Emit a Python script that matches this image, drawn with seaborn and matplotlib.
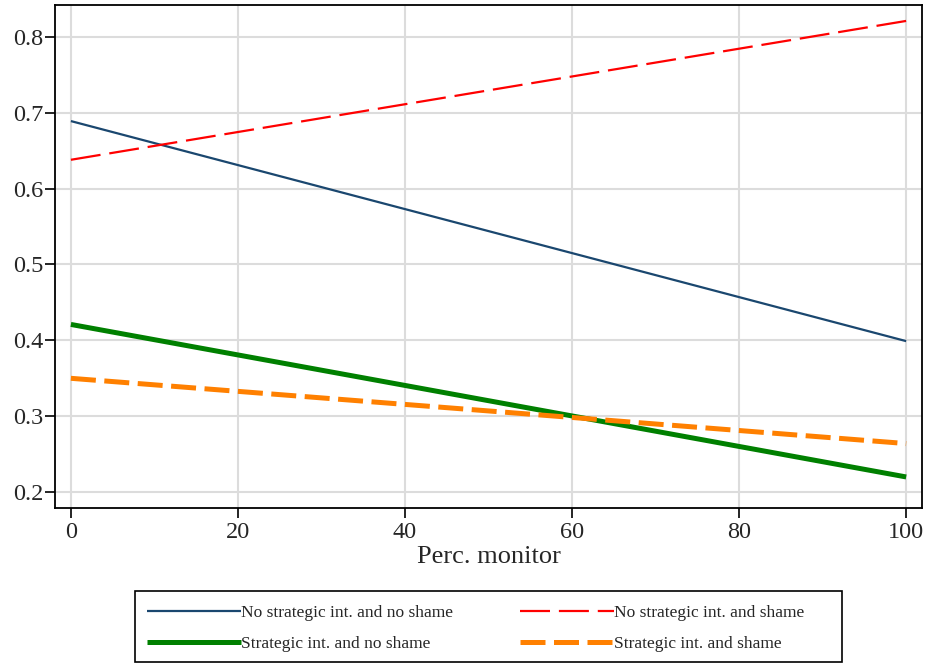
import matplotlib
matplotlib.use("Agg")
import matplotlib.pyplot as plt
import pandas as pd
import seaborn as sns
from matplotlib.patches import Rectangle

# predicted values at the ends of the monitor range
perc_monitor = [0, 100]
no_strat_no_shame = [0.689, 0.399]
no_strat_shame = [0.638, 0.821]
strat_no_shame = [0.421, 0.220]
strat_shame = [0.350, 0.264]

labels = ["No strategic int. and no shame", "No strategic int. and shame",
          "Strategic int. and no shame", "Strategic int. and shame"]
series = [no_strat_no_shame, no_strat_shame, strat_no_shame, strat_shame]
colors = ["#1a476f", "#ff0000", "#008000", "#ff8000"]
widths = [1.6, 1.6, 3.6, 3.6]
dashes = [None, (13.5, 4), None, (5, 1.7)]

sns.set_style("white")
plt.rcParams['font.family'] = ['Liberation Serif', 'DejaVu Serif']

fig = plt.figure(figsize=(9.25, 6.65), dpi=100)
ax = fig.add_axes([0.0595, 0.236, 0.9373, 0.7565])

handles = []
for lab, vals, col, lw, ds in zip(labels, series, colors, widths, dashes):
    df = pd.DataFrame({"x": perc_monitor, "y": vals})
    sns.lineplot(data=df, x="x", y="y", ax=ax, color=col, linewidth=lw, legend=False)
    line = ax.lines[-1]
    line.set_solid_capstyle("butt")
    line.set_dash_capstyle("butt")
    if ds is not None:
        line.set_dashes(ds)
    line.set_label(lab)
    handles.append(line)

if ax.get_legend() is not None:
    ax.get_legend().remove()

ax.set_xlim(-1.9, 101.9)
ax.set_ylim(0.179, 0.842)
ax.set_xticks([0, 20, 40, 60, 80, 100])
ax.set_yticks([0.2, 0.3, 0.4, 0.5, 0.6, 0.7, 0.8])
ax.set_yticklabels(["0.2", "0.3", "0.4", "0.5", "0.6", "0.7", "0.8"])
ax.grid(True, color="#dcdcdc", linewidth=1.5)
ax.set_axisbelow(True)
for s in ax.spines.values():
    s.set_color("black")
    s.set_linewidth(1.3)
ax.tick_params(axis="both", direction="out", length=7, width=1.2, color="black",
               labelsize=17.5, bottom=True, left=True)
ax.tick_params(axis="x", pad=3)
ax.tick_params(axis="y", pad=1.5)
ax.set_xlabel("Perc. monitor", fontsize=19, labelpad=2)
ax.set_ylabel("")

# legend entries left aligned in a wider box, like the original
order = [0, 2, 1, 3]
leg = fig.legend([handles[i] for i in order], [labels[i] for i in order],
                 loc="center left", bbox_to_anchor=(0.1495, 0.0555), ncol=2,
                 fontsize=12.5, handlelength=5.4, handletextpad=0.0,
                 columnspacing=3.9, labelspacing=0.85, frameon=False, borderpad=0)
fig.patches.append(Rectangle((0.1459, 0.0045), 0.7643, 0.1068, transform=fig.transFigure,
                             fill=False, edgecolor="black", linewidth=1.2))

fig.savefig("out.png", dpi=100)
